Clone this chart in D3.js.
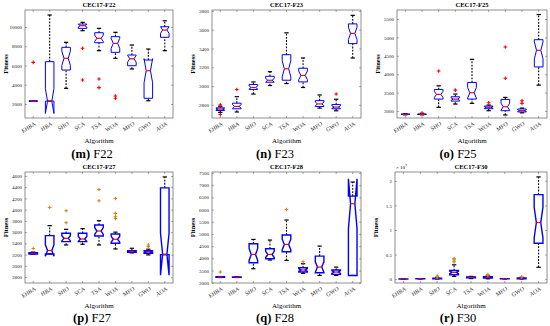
<!DOCTYPE html>
<html><head><meta charset="utf-8">
<script src="https://cdn.jsdelivr.net/npm/d3@7"></script>
<style>body{margin:0;background:#fff}text{font-family:"Liberation Serif","DejaVu Serif",serif}</style>
</head><body><svg id="c" width="550" height="326"></svg>
<script>
const categories = ["EHBA","HBA","SHO","SCA","TSA","WOA","MFO","GWO","AOA"];
// each entry: [lower whisker, Q1, median, Q3, upper whisker]
const f22Stats = [[2280,2290,2300,2310,2320],[2290,2300,2300,6400,11250],[3630,5530,6750,7890,8410],[9620,9860,10140,10310,10490],[7540,8370,8830,9410,9860],[6750,7370,8300,9000,9450],[5640,5980,6700,7090,8130],[2340,2590,5460,6570,7710],[7540,8930,9690,10030,10650]];
const f22Outliers = [[6330],[],[],[7790,4490],[4600,3700],[2830,2600],[],[],[]];
const f22Ticks = [2000,4000,6000,8000,10000];

const f23Stats = [[2720,2740,2755,2768,2785],[2724,2758,2783,2818,2887],[2915,2964,2985,3017,3044],[3006,3041,3062,3104,3153],[3027,3062,3184,3334,3567],[2985,3044,3114,3190,3299],[2765,2782,2810,2845,2905],[2737,2758,2776,2803,2860],[3299,3452,3561,3662,3753]];
const f23Outliers = [[2800,2697],[2964],[],[],[],[],[],[2915],[]];
const f23Ticks = [2800,3000,3200,3400,3600,3800];

const f25Stats = [[2895,2905,2910,2915,2930],[2895,2905,2910,2918,2935],[3100,3324,3451,3586,3684],[3189,3270,3324,3387,3460],[3208,3324,3495,3776,4405],[3008,3062,3100,3135,3162],[2892,3008,3116,3316,3370],[2950,2975,3010,3055,3080],[3703,4198,4649,4938,5622]];
const f25Outliers = [[],[2945],[4089],[3568],[],[3224],[4738,3892],[3278,3208],[]];
const f25Ticks = [3000,3500,4000,4500,5000,5500];

const f27Stats = [[3205,3212,3220,3232,3245],[3212,3212,3273,3538,3715],[3372,3431,3490,3579,3650],[3384,3431,3478,3579,3662],[3372,3531,3620,3726,3803],[3301,3402,3473,3567,3600],[3230,3240,3255,3270,3313],[3195,3225,3250,3270,3296],[3200,3200,3207,4388,4582]];
const f27Outliers = [[3310],[4039],[3980,3768],[],[4358,4158],[4198,3933,3874,3845],[],[3372,3343],[]];
const f27Ticks = [2800,3000,3200,3400,3600,3800,4000,4200,4400,4600];

const f28Stats = [[3215,3225,3235,3245,3255],[3215,3225,3232,3242,3255],[3574,3820,4161,4599,4776],[3930,3984,4161,4394,4750],[3916,4271,4571,4955,5571],[3383,3439,3521,3615,3779],[3300,3410,3642,4093,4503],[3300,3342,3439,3521,3642],[3300,3300,6240,6550,7128]];
const f28Outliers = [[3440],[],[],[],[6005],[3861],[],[],[]];
const f28Ticks = [3000,3500,4000,4500,5000,5500,6000,6500,7000,7500];

// values in units of 1e7
const f30Stats = [[0.001,0.002,0.003,0.004,0.006],[0.001,0.003,0.004,0.006,0.009],[0.002,0.008,0.013,0.02,0.03],[0.054,0.087,0.135,0.176,0.29],[0.01,0.025,0.035,0.045,0.055],[0.005,0.02,0.035,0.05,0.07],[0.001,0.003,0.005,0.007,0.01],[0.002,0.008,0.015,0.025,0.035],[0.24,0.73,1.15,1.72,2.08]];
const f30Outliers = [[],[],[0.045,0.06],[0.35,0.39,0.42],[],[0.08,0.09],[],[0.045],[]];
const f30Ticks = [0,0.5,1,1.5,2];

const svg = d3.select("#c");
const panels = [
  {title:"CEC17-F22", letter:"(m)", fn:"F22", stats:f22Stats, out:f22Outliers, ticks:f22Ticks, domain:[545,11770], fr:[25,173,10,118], cx:92, row:0},
  {title:"CEC17-F23", letter:"(n)", fn:"F23", stats:f23Stats, out:f23Outliers, ticks:f23Ticks, domain:[2660,3810], fr:[212,361,10,118], cx:275, row:0},
  {title:"CEC17-F25", letter:"(o)", fn:"F25", stats:f25Stats, out:f25Outliers, ticks:f25Ticks, domain:[2810,5745], fr:[397,547,10,118], cx:458, row:0},
  {title:"CEC17-F27", letter:"(p)", fn:"F27", stats:f27Stats, out:f27Outliers, ticks:f27Ticks, domain:[2695,4670], fr:[25,173,172,283], cx:92, row:1},
  {title:"CEC17-F28", letter:"(q)", fn:"F28", stats:f28Stats, out:f28Outliers, ticks:f28Ticks, domain:[2990,7540], fr:[212,361,172,283], cx:275, row:1},
  {title:"CEC17-F30", letter:"(r)", fn:"F30", stats:f30Stats, out:f30Outliers, ticks:f30Ticks, domain:[-0.08,2.18], fr:[395,547,172,283], cx:458, row:1, exp:true}
];

panels.forEach(p => {
  const [x0,x1,y0,y1] = p.fr;
  const g = svg.append("g");
  const x = d3.scaleBand().domain(categories).range([x0,x1]);
  const y = d3.scaleLinear().domain(p.domain).range([y1,y0]);
  const fmt = p.exp ? d3.format("~g") : d3.format("d");
  const lw = p.row === 0 ? 1 : 1.4;
  const outColor = p.row === 0 ? "#ff0000" : "#c98d24";

  const ax = (axis, tx, ty, labels) => {
    const a = g.append("g").attr("transform", `translate(${tx},${ty})`).call(axis);
    a.select(".domain").remove();
    a.selectAll(".tick line").attr("stroke","#555").attr("stroke-width",0.5);
    a.selectAll("text").attr("font-size", 5).attr("fill","#222").attr("font-family","Liberation Serif");
    if (!labels) a.selectAll("text").remove();
    return a;
  };
  ax(d3.axisLeft(y).tickValues(p.ticks).tickFormat(fmt).tickSize(-2).tickPadding(3), x0, 0, true);
  ax(d3.axisRight(y).tickValues(p.ticks).tickSize(-2), x1, 0, false);
  const bx = ax(d3.axisBottom(x).tickSize(-2), 0, y1, true);
  bx.selectAll("text").attr("font-size",5.8).attr("text-anchor","end")
    .attr("x",0).attr("y",0).attr("dy","0.35em").attr("transform","translate(2,5) rotate(-32)");
  ax(d3.axisTop(x).tickSize(-2), 0, y0, false);

  g.append("rect").attr("x",x0).attr("y",y0).attr("width",x1-x0).attr("height",y1-y0)
    .attr("fill","none").attr("stroke","#444").attr("stroke-width",0.6);

  const n = 25;
  p.stats.forEach((s,i) => {
    const [lo,q1,md,q3,hi] = s;
    const c = x(categories[i]) + x.bandwidth()/2;
    const bw = x.bandwidth()*0.52, L = c-bw/2, R = c+bw/2, ins = bw*0.25;
    const nt = 1.57*(q3-q1)/Math.sqrt(n);
    [[q3,hi],[lo,q1]].forEach(([a,b]) => {
      if (Math.abs(y(a)-y(b)) > 0.5)
        g.append("line").attr("x1",c).attr("x2",c).attr("y1",y(a)).attr("y2",y(b))
          .attr("stroke","#000").attr("stroke-width",1.1).attr("stroke-dasharray","1.8,1.4");
    });
    [hi,lo].forEach(v => g.append("line").attr("x1",c-bw*0.25).attr("x2",c+bw*0.25)
      .attr("y1",y(v)).attr("y2",y(v)).attr("stroke","#000").attr("stroke-width",1.2));
    const pts = [[L,q1],[L,md-nt],[L+ins,md],[L,md+nt],[L,q3],[R,q3],[R,md+nt],[R-ins,md],[R,md-nt],[R,q1]];
    g.append("path").attr("d", d3.line().x(d=>d[0]).y(d=>y(d[1]))(pts)+"Z")
      .attr("fill","none").attr("stroke","#0000ff").attr("stroke-width",lw).attr("stroke-linejoin","miter");
    g.append("line").attr("x1",L+ins).attr("x2",R-ins).attr("y1",y(md)).attr("y2",y(md))
      .attr("stroke","#ff0000").attr("stroke-width",1.2);
    p.out[i].forEach(v => {
      const yy = y(v), r = 1.8;
      g.append("path").attr("d",`M${c-r},${yy}H${c+r}M${c},${yy-r}V${yy+r}`)
        .attr("stroke",outColor).attr("stroke-width",1.1).attr("fill","none");
    });
  });

  const mx = (x0+x1)/2;
  g.append("text").attr("x",mx).attr("y",y0-3).attr("text-anchor","middle")
    .attr("font-size",6.5).attr("font-weight","bold").text(p.title);
  g.append("text").attr("transform",`translate(${x0-17},${(y0+y1)/2}) rotate(-90)`)
    .attr("text-anchor","middle").attr("font-size",6.5).attr("font-weight","bold").text("Fitness");
  g.append("text").attr("x",mx).attr("y",y1+25).attr("text-anchor","middle")
    .attr("font-size",7).text("Algorithm");
  const cap = g.append("text").attr("x",p.cx).attr("y",y1+40 + (p.row===1?-1:0)).attr("text-anchor","middle").attr("font-size",12.5);
  cap.append("tspan").attr("font-weight","bold").text(p.letter);
  cap.append("tspan").text(" " + p.fn);
  if (p.exp) {
    const t = g.append("text").attr("x",x0+1).attr("y",y0-3).attr("font-size",5).text("\u00d7 10");
    t.append("tspan").attr("dy",-2).attr("font-size",4).text("7");
  }
});
</script></body></html>
